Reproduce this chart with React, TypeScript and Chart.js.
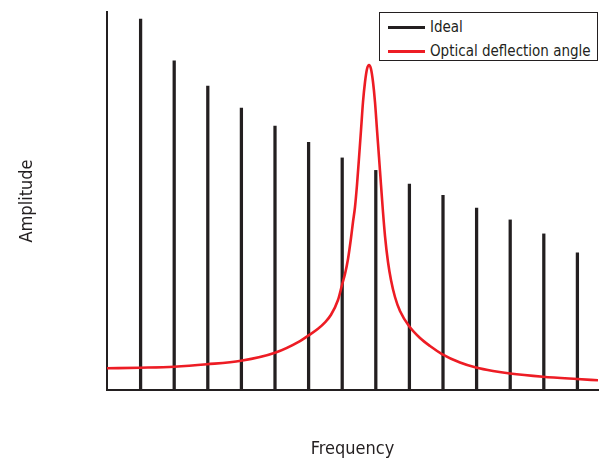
import React, { useEffect, useRef } from "react";
import { Chart, registerables } from "chart.js";

Chart.register(...registerables);

const idealFrequency = [1, 2, 3, 4, 5, 6, 7, 8, 9, 10, 11, 12, 13, 14];
const idealAmplitude = [98.1, 87.1, 80.4, 74.6, 69.8, 65.5, 61.4, 58.1, 54.5, 51.5, 48.1, 45.0, 41.3, 36.3];

const opticalFrequency = [
  0.0, 0.982, 1.994, 2.976, 3.988, 5.0, 5.744, 5.982, 6.28, 6.488, 6.667, 6.875, 6.994, 7.083, 7.173,
  7.262, 7.321, 7.381, 7.44, 7.5, 7.56, 7.619, 7.679, 7.738, 7.798, 7.857, 7.917, 7.976, 8.036, 8.095,
  8.155, 8.214, 8.274, 8.363, 8.452, 8.571, 8.72, 8.988, 9.315, 9.613, 9.97, 10.506, 10.982, 11.488,
  11.994, 12.976, 13.988, 14.613,
];
const opticalAmplitude = [
  5.74, 5.9, 6.16, 6.8, 7.75, 9.87, 12.96, 14.35, 16.2, 17.9, 19.9, 23.81, 27.78, 30.69, 34.66,
  40.21, 44.44, 48.41, 54.23, 61.38, 68.78, 76.19, 81.48, 84.92, 85.98, 84.92, 81.48, 76.19, 68.78, 61.64,
  54.23, 47.09, 40.74, 33.86, 29.1, 24.6, 20.9, 16.93, 13.76, 11.64, 9.52, 7.28, 5.95, 5.03,
  4.37, 3.52, 2.91, 2.57,
];

const seriesLabels = ["Ideal", "Optical deflection angle"];
const xTitle = "Frequency";
const yTitle = "Amplitude";

const BLACK = "#231f20";
const RED = "#ed1c24";
const FONT = "'DejaVu Sans Condensed', 'DejaVu Sans', sans-serif";

export default function App() {
  const ref = useRef<HTMLCanvasElement | null>(null);

  useEffect(() => {
    if (!ref.current) return;
    const chart = new Chart(ref.current, {
      type: "bar",
      data: {
        datasets: [
          {
            type: "bar",
            label: seriesLabels[0],
            data: idealFrequency.map((f, i) => ({ x: f, y: idealAmplitude[i] })),
            backgroundColor: BLACK,
            borderWidth: 0,
            barThickness: 2.6,
            grouped: false,
            order: 1,
          } as any,
          {
            type: "line",
            label: seriesLabels[1],
            data: opticalFrequency.map((f, i) => ({ x: f, y: opticalAmplitude[i] })),
            borderColor: RED,
            borderWidth: 2.6,
            pointRadius: 0,
            cubicInterpolationMode: "monotone",
            fill: false,
            order: 0,
          } as any,
        ],
      },
      options: {
        responsive: false,
        animation: false,
        layout: { padding: { top: 12, right: 4, left: 0, bottom: 0 } },
        plugins: { legend: { display: false }, tooltip: { enabled: false } },
        scales: {
          x: {
            type: "linear",
            offset: false,
            bounds: "ticks",
            min: 0,
            max: 14.613,
            grid: { display: false, offset: false },
            ticks: { display: false },
            border: { display: true, color: BLACK, width: 2 },
            title: {
              display: true,
              text: xTitle,
              color: BLACK,
              font: { family: FONT, size: 18 },
              padding: { top: 0, bottom: 0 },
            },
            afterFit: (scale: any) => {
              scale.height = 70;
            },
          },
          y: {
            type: "linear",
            min: 0,
            max: 100,
            grid: { display: false },
            ticks: { display: false },
            border: { display: true, color: BLACK, width: 2 },
            title: {
              display: true,
              text: yTitle,
              color: BLACK,
              font: { family: FONT, size: 18 },
              padding: { top: 17, bottom: 0 },
            },
            afterFit: (scale: any) => {
              scale.width = 107;
            },
          },
        },
      },
    });
    return () => chart.destroy();
  }, []);

  const sample = (top: number, color: string) => (
    <div style={{ position: "absolute", left: 8, top: top - 1.5, width: 37, height: 3, background: color }} />
  );
  const text = (top: number, label: string) => (
    <div
      style={{
        position: "absolute",
        left: 50,
        top: top - 10,
        lineHeight: "20px",
        fontSize: 15,
        fontFamily: FONT,
        color: BLACK,
        whiteSpace: "nowrap",
      }}
    >
      {label}
    </div>
  );

  return (
    <div style={{ position: "absolute", left: 0, top: 0, width: 602, height: 460, background: "#fff" }}>
      <canvas ref={ref} width={602} height={460} />
      <div
        style={{
          position: "absolute",
          left: 379,
          top: 12,
          width: 219,
          height: 49,
          boxSizing: "border-box",
          border: `1px solid ${BLACK}`,
          background: "#fff",
        }}
      >
        {sample(14, BLACK)}
        {text(14, seriesLabels[0])}
        {sample(38, RED)}
        {text(38, seriesLabels[1])}
      </div>
    </div>
  );
}
